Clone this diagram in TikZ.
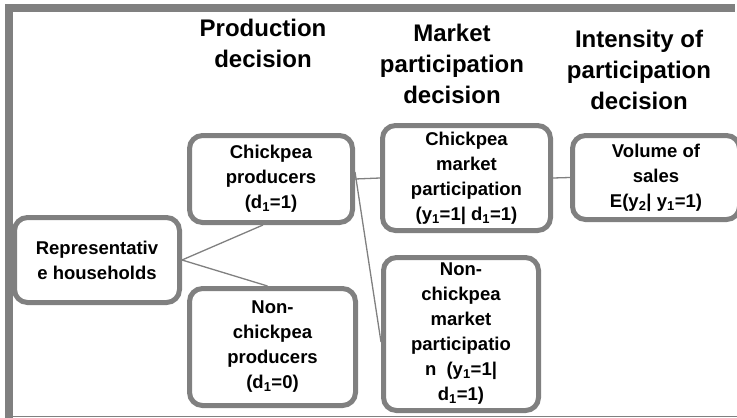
\documentclass[tikz,border=0pt]{standalone}
\usepackage{fontspec}
\setmainfont{Liberation Sans}
\definecolor{framegray}{HTML}{808080}
\begin{document}
\begin{tikzpicture}[x=1pt,y=-1pt,
  hdr/.style={font=\fontsize{24}{31}\selectfont\bfseries, align=center},
  stage/.style={draw=framegray, line width=5pt, rounded corners=13pt, fill=white,
    align=center, inner sep=0pt, font=\fontsize{18.5}{25}\selectfont\bfseries},
  link/.style={draw=framegray, line width=1.3pt}]
\clip (0,0) rectangle (737,418);
\fill[white] (0,0) rectangle (737,418);
\draw[framegray, line width=8pt] (9,418) -- (9,8) -- (735,8);
\draw[framegray, line width=1pt] (5,416.5) -- (737,416.5);

\node[hdr] (hprod) at (263,43.7) {Production\\decision};
\node[hdr] (hmkt) at (452,64) {Market\\participation\\decision};
\node[hdr] (hint) at (639,70) {Intensity of\\participation\\decision};

\node[stage, minimum width=165pt, minimum height=85pt] (rep) at (97,260) {Representativ\\e households};
\node[stage, minimum width=163pt, minimum height=87pt] (chprod) at (271,179) {Chickpea\\producers\\(d\textsubscript{1}=1)};
\node[stage, minimum width=166pt, minimum height=117pt] (nonprod) at (272.5,347) {Non-\\chickpea\\producers\\(d\textsubscript{1}=0)};
\node[stage, minimum width=168pt, minimum height=105pt] (chmkt) at (466.5,178) {Chickpea\\market\\participation\\(y\textsubscript{1}=1| d\textsubscript{1}=1)};
\node[stage, minimum width=155pt, minimum height=153pt] (nonmkt) at (461,334) {Non-\\chickpea\\market\\participatio\\n~ (y\textsubscript{1}=1|\\d\textsubscript{1}=1)};
\node[stage, minimum width=167pt, minimum height=84pt] (vol) at (656,177.5) {Volume of\\sales\\E(y\textsubscript{2}| y\textsubscript{1}=1)};

\draw[link] (rep.east) -- ([xshift=-8pt]chprod.south);
\draw[link] (rep.east) -- ([xshift=-5pt]nonprod.north);
\draw[link] (chprod.east) -- (chmkt.west);
\draw[link] ([yshift=7pt]chprod.east) -- ([yshift=-8pt]nonmkt.west);
\draw[link] (chmkt.east) -- (vol.west);

\end{tikzpicture}
\end{document}
